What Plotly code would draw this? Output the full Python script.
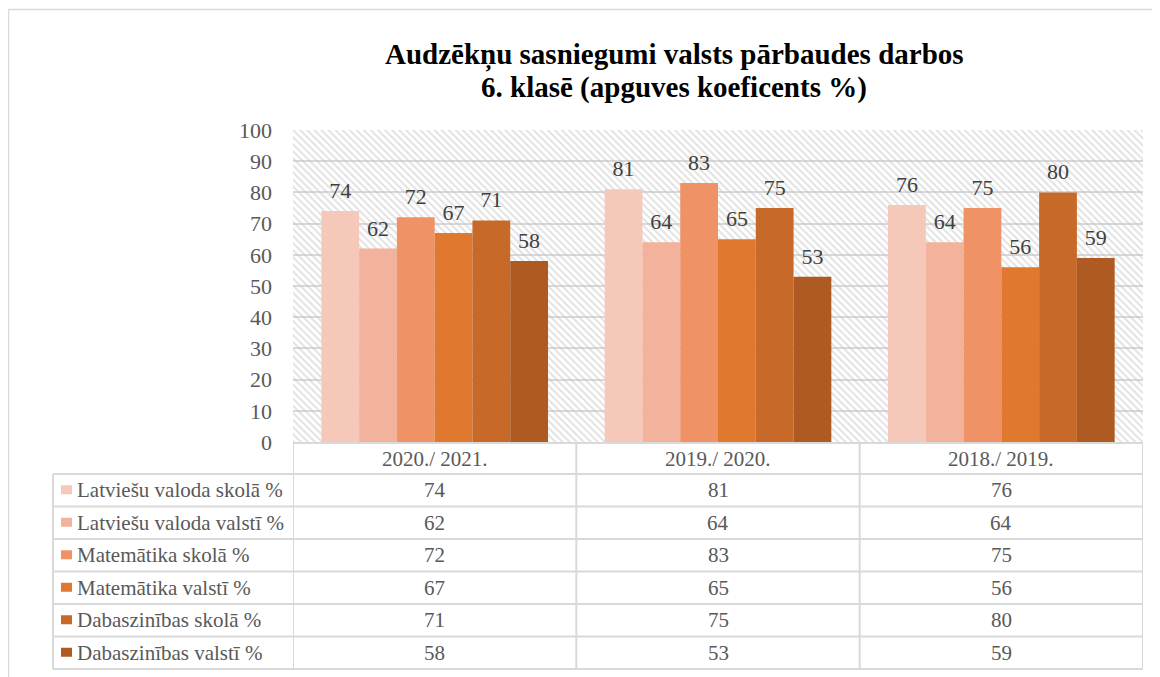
import plotly.graph_objects as go

# ---------------- data ----------------
categories = ["2020./ 2021.", "2019./ 2020.", "2018./ 2019."]
series_names = [
    "Latviešu valoda skolā %",
    "Latviešu valoda valstī %",
    "Matemātika skolā %",
    "Matemātika valstī %",
    "Dabaszinības skolā %",
    "Dabaszinības valstī %",
]
latv_skola = [74, 81, 76]
latv_valsti = [62, 64, 64]
mat_skola = [72, 83, 75]
mat_valsti = [67, 65, 56]
dab_skola = [71, 75, 80]
dab_valsti = [58, 53, 59]
series_values = [latv_skola, latv_valsti, mat_skola, mat_valsti, dab_skola, dab_valsti]
y_ticks = [0, 10, 20, 30, 40, 50, 60, 70, 80, 90, 100]

colors = ["#F5C8BA", "#F2B29B", "#EF9266", "#E07830", "#C76A29", "#AE5A22"]

# ---------------- layout geometry (pixels) ----------------
OFF = 8                      # page body margin
W, H = 1160 - OFF, 677 - OFF
L, R, T, B = 285, 17, 122, 235
PW = W - L - R
PH = H - T - B
FONT = "Liberation Serif, Times New Roman, serif"
GRID = "#d9d9d9"
TXT = "#595959"


def px(x):
    """screen pixel x -> paper x"""
    return (x - OFF - L) / PW


def py(y):
    """screen pixel y -> paper y"""
    return (H - B - (y - OFF)) / PH


fig = go.Figure()

# hatched plot background (decoration on a hidden helper axis)
fig.add_trace(go.Scatter(
    x=[0, 1, 1, 0, 0], y=[0, 0, 1, 1, 0], mode="lines", fill="toself",
    line=dict(width=0, color="rgba(0,0,0,0)"), fillcolor="rgba(0,0,0,0)",
    fillpattern=dict(shape="\\", fgcolor="#c4c4c4", bgcolor="rgba(0,0,0,0)",
                     size=5, solidity=0.4),
    hoverinfo="skip", showlegend=False, xaxis="x", yaxis="y",
))

pad = "<span style='font-size:44px'> </span>"
for name, vals, col in zip(series_names, series_values, colors):
    fig.add_trace(go.Bar(
        x=categories, y=vals, name=name, marker=dict(color=col, line=dict(width=0)),
        text=vals, texttemplate=pad + "%{y}" + pad, textposition="outside",
        constraintext="none",
        textfont=dict(family=FONT, size=22, color="#404040"),
        cliponaxis=False, xaxis="x2", yaxis="y2", showlegend=False,
    ))

shapes = []
annotations = []

# outer chart frame
shapes.append(dict(type="line", xref="paper", yref="paper", x0=px(8.5), x1=px(1170),
                   y0=py(9.5), y1=py(9.5), line=dict(color=GRID, width=1.5)))
shapes.append(dict(type="line", xref="paper", yref="paper", x0=px(8.5), x1=px(8.5),
                   y0=py(9.5), y1=py(690), line=dict(color=GRID, width=1.5)))

# data table grid
bounds = [474, 506.5, 539, 571.5, 604, 636.5, 669]
header_top = 443
tl = dict(color=GRID, width=2)
shapes.append(dict(type="line", xref="paper", yref="paper", x0=px(293), x1=px(1143),
                   y0=py(header_top), y1=py(header_top), line=tl))
for yy in bounds:
    shapes.append(dict(type="line", xref="paper", yref="paper", x0=px(53), x1=px(1143),
                       y0=py(yy), y1=py(yy), line=tl))
shapes.append(dict(type="line", xref="paper", yref="paper", x0=px(53), x1=px(53),
                   y0=py(474), y1=py(669), line=tl))
for k in range(len(categories) + 1):
    shapes.append(dict(type="line", xref="x2", yref="paper", x0=k - 0.5, x1=k - 0.5,
                       y0=py(header_top), y1=py(669), line=tl))

# header labels
for c in categories:
    annotations.append(dict(x=c, xref="x2", y=py((header_top + 474) / 2), yref="paper",
                            text=c, showarrow=False, xanchor="center", yanchor="middle",
                            font=dict(family=FONT, size=21, color=TXT)))

# rows
for i, (name, vals, col) in enumerate(zip(series_names, series_values, colors)):
    yc = (bounds[i] + bounds[i + 1]) / 2
    shapes.append(dict(type="rect", xref="paper", yref="paper", x0=px(61), x1=px(72),
                       y0=py(yc + 4), y1=py(yc - 5), fillcolor=col, line=dict(width=0)))
    annotations.append(dict(x=px(75), xref="paper", y=py(yc), yref="paper", text=name,
                            showarrow=False, xanchor="left", yanchor="middle",
                            font=dict(family=FONT, size=21, color=TXT)))
    for c, v in zip(categories, vals):
        annotations.append(dict(x=c, xref="x2", y=py(yc), yref="paper", text=str(v),
                                showarrow=False, xanchor="center", yanchor="middle",
                                font=dict(family=FONT, size=21, color=TXT)))

# title
for text, yy in [("<b>Audzēkņu sasniegumi valsts pārbaudes darbos</b>", 55),
                 ("<b>6. klasē (apguves koeficents %)</b>", 87)]:
    annotations.append(dict(x=px(674), xref="paper", y=py(yy), yref="paper", text=text,
                            showarrow=False, xanchor="center", yanchor="middle",
                            font=dict(family=FONT, size=29, color="#000000")))

fig.update_layout(
    width=W, height=H,
    margin=dict(l=L, r=R, t=T, b=B, pad=0),
    paper_bgcolor="white", plot_bgcolor="white",
    barmode="group", bargap=0.2, bargroupgap=0,
    showlegend=False,
    xaxis=dict(domain=[0, 1], range=[0, 1], visible=False, fixedrange=True),
    yaxis=dict(domain=[0, 1], range=[0, 1], visible=False, fixedrange=True),
    xaxis2=dict(overlaying="x", anchor="y2", type="category", range=[-0.5, 2.5],
                showticklabels=False, showgrid=False, zeroline=False, showline=False,
                ticks=""),
    yaxis2=dict(overlaying="y", anchor="x2", range=[0, 100], tickvals=y_ticks,
                showgrid=True, gridcolor=GRID, gridwidth=2, zeroline=False,
                showline=False, ticks="", ticklabelstandoff=20,
                tickfont=dict(family=FONT, size=22, color=TXT)),
    shapes=shapes, annotations=annotations,
)

fig.write_html("out.html")
